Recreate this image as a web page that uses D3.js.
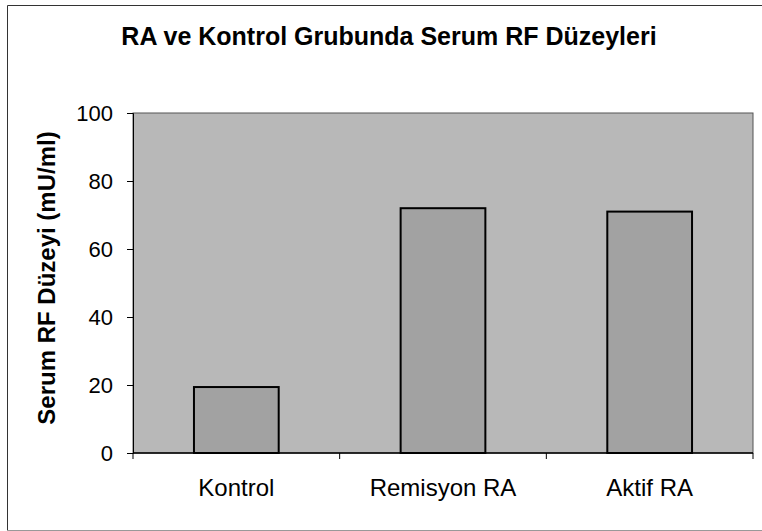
<!DOCTYPE html>
<html>
<head>
<meta charset="utf-8">
<script src="https://cdn.jsdelivr.net/npm/d3@7"></script>
<style>
  body { margin:0; background:#fff; }
  text { font-family: "Liberation Sans", Arial, sans-serif; fill:#000; }
</style>
</head>
<body>
<div id="chart"></div>
<script>
// RF levels chart

var categories = ["Kontrol", "Remisyon RA", "Aktif RA"];
var values = [19.4, 72, 71];
var yTicks = [0, 20, 40, 60, 80, 100];

var width = 762, height = 531;
var margin = {top:113, right:9, bottom:78, left:133};

var svg = d3.select("#chart").append("svg")
  .attr("width", width)
  .attr("height", height);

// outer frame
svg.append("path")
  .attr("d", "M7.5,531 V5.5 H762")
  .attr("fill", "none")
  .attr("stroke", "#333")
  .attr("stroke-width", 1);
svg.append("line")
  .attr("x1", 7).attr("x2", 762).attr("y1", 530.5).attr("y2", 530.5)
  .attr("stroke", "#999");

var x = d3.scaleBand()
  .domain(categories)
  .range([margin.left, width - margin.right])
  .paddingInner(0.59)
  .paddingOuter(0.295);

var y = d3.scaleLinear()
  .domain([0, 100])
  .range([height - margin.bottom, margin.top]);

// plot area
svg.append("rect")
  .attr("x", margin.left)
  .attr("y", margin.top)
  .attr("width", width - margin.right - margin.left)
  .attr("height", y(0) - margin.top)
  .attr("fill", "#b8b8b8")
  .attr("stroke", "#555")
  .attr("stroke-width", 1);

svg.selectAll(".bar").data(values)
  .enter().append("rect")
  .attr("class", "bar")
  .attr("x", function(d,i){ return x(categories[i]); })
  .attr("y", function(d){ return y(d); })
  .attr("width", x.bandwidth())
  .attr("height", function(d){ return y(0) - y(d); })
  .attr("fill", "#a2a2a2")
  .attr("stroke", "#000")
  .attr("stroke-width", 2);

// y axis
var yAxis = svg.append("g")
  .attr("transform", "translate(" + margin.left + ",0)")
  .call(d3.axisLeft(y).tickValues(yTicks).tickSize(6).tickPadding(14));
yAxis.selectAll("text").style("font-size", "22px");
yAxis.select(".domain").attr("stroke", "#000");

// x axis with ticks at band boundaries
var bandStep = x.step();
var xAxis = svg.append("g")
  .attr("transform", "translate(0," + y(0) + ")");
xAxis.append("line")
  .attr("x1", margin.left).attr("x2", width - margin.right)
  .attr("stroke", "#000").attr("stroke-width", 1.5);
xAxis.selectAll(".tk").data(d3.range(categories.length + 1))
  .enter().append("line")
  .attr("class", "tk")
  .attr("x1", function(i){ return margin.left + i * bandStep; })
  .attr("x2", function(i){ return margin.left + i * bandStep; })
  .attr("y1", 0).attr("y2", 6)
  .attr("stroke", "#000");
xAxis.selectAll(".lbl").data(categories)
  .enter().append("text")
  .attr("class", "lbl")
  .attr("x", function(d){ return x(d) + x.bandwidth() / 2; })
  .attr("y", 43)
  .attr("text-anchor", "middle")
  .style("font-size", "24px")
  .text(function(d){ return d; });

// title
svg.append("text")
  .attr("x", 389)
  .attr("y", 45)
  .attr("text-anchor", "middle")
  .style("font-size", "25px")
  .style("font-weight", "bold")
  .text("RA ve Kontrol Grubunda Serum RF Düzeyleri");

// y label
svg.append("text")
  .attr("transform", "translate(55,278) rotate(-90)")
  .attr("text-anchor", "middle")
  .style("font-size", "24px")
  .style("font-weight", "bold")
  .text("Serum RF Düzeyi (mU/ml)");
</script>
</body>
</html>
